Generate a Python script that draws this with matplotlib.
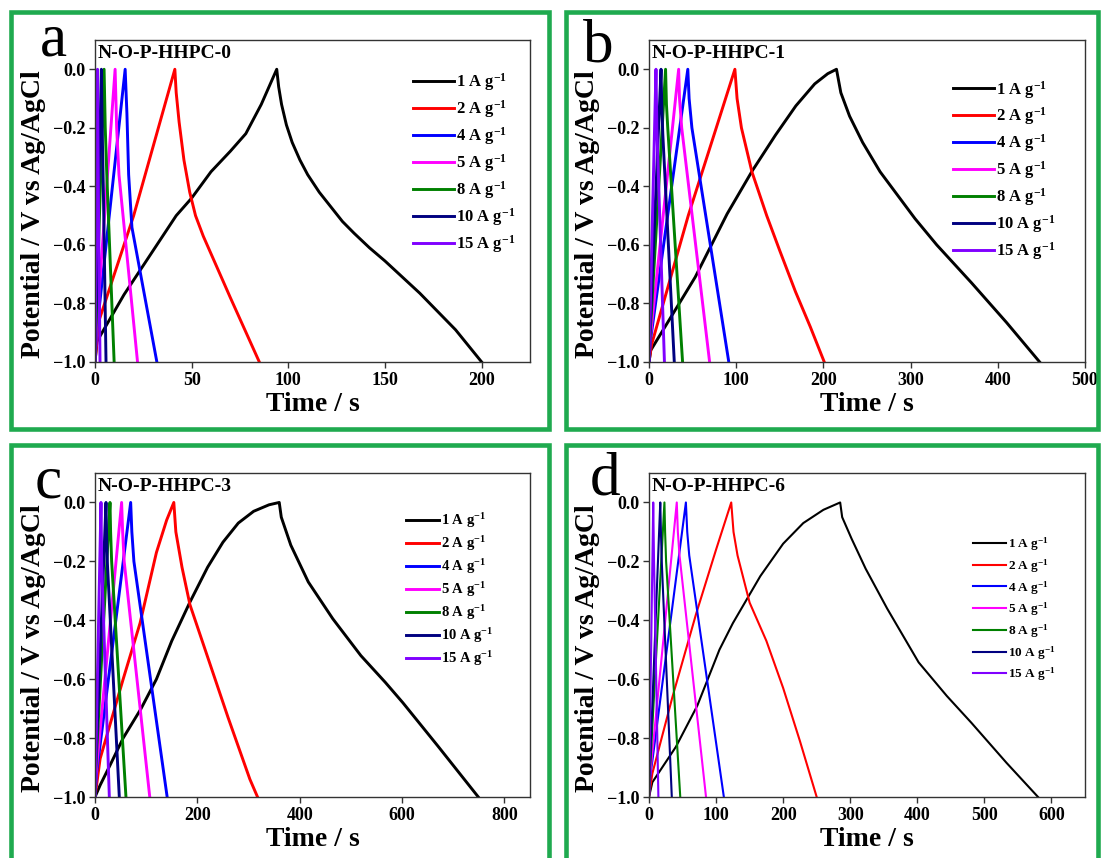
import matplotlib
matplotlib.use("Agg")
import matplotlib.pyplot as plt
from matplotlib.patches import Rectangle
from matplotlib.ticker import FuncFormatter

plt.rcParams['font.family'] = ['Liberation Serif', 'DejaVu Serif']
plt.rcParams['font.weight'] = 'bold'
plt.rcParams['mathtext.fontset'] = 'custom'
plt.rcParams['mathtext.rm'] = 'Liberation Serif:bold'
plt.rcParams['mathtext.default'] = 'rm'

W, H = 1101, 858

# corrientes y colores (iguales en los 4 paneles)
rates = ['1', '2', '4', '5', '8', '10', '15']
colors = ['#000000', '#ff0000', '#0000ff', '#ff00ff', '#008000', '#000080', '#8000ff']
samples = ['N-O-P-HHPC-0', 'N-O-P-HHPC-1', 'N-O-P-HHPC-3', 'N-O-P-HHPC-6']
letters = ['a', 'b', 'c', 'd']

# panel a : N-O-P-HHPC-0  (tiempo en s, potencial en V)
a_t = [
    [0, 1, 15, 32, 42, 50, 60, 70, 78, 86, 94, 95, 96.5, 99, 102, 106, 110, 116, 122, 128, 134, 142, 150, 168, 186.5, 200],
    [0, 2, 20, 41.3, 42, 43.5, 46, 49, 52, 56, 60, 70, 85],
    [0, 0.8, 15.6, 16.5, 17.4, 19.1, 32],
    [0, 0.6, 10.4, 11.2, 12.4, 22],
    [0, 0.4, 4.7, 5.3, 6.1, 9.9],
    [0, 0.3, 3.3, 3.7, 4.3, 5.7],
    [0, 1.3, 1.7, 2.6],
]
a_v = [
    [-1, -0.93, -0.77, -0.6, -0.5, -0.44, -0.35, -0.28, -0.22, -0.12, 0, -0.06, -0.12, -0.19, -0.25, -0.31, -0.36, -0.42, -0.47, -0.52, -0.56, -0.61, -0.655, -0.765, -0.89, -1],
    [-1, -0.86, -0.5, 0, -0.08, -0.18, -0.31, -0.42, -0.5, -0.57, -0.63, -0.78, -1],
    [-1, -0.9, 0, -0.15, -0.36, -0.54, -1],
    [-1, -0.9, 0, -0.2, -0.36, -1],
    [-1, -0.9, 0, -0.2, -0.36, -1],
    [-1, -0.9, 0, -0.2, -0.4, -1],
    [-1, 0, -0.4, -1],
]

# panel b : N-O-P-HHPC-1
b_t = [
    [0, 2, 53, 89.6, 118.4, 145, 168.4, 190, 205, 215, 220, 230, 245, 265, 290, 305, 330, 370, 410, 448],
    [0, 3, 45, 75, 98.5, 101, 106, 118, 135, 150, 168, 185, 201],
    [0, 1.5, 44.5, 46, 49.2, 91.5],
    [0, 1, 34, 35, 37.5, 69.5],
    [0, 0.8, 19, 20, 21.5, 38.5],
    [0, 0.6, 13.8, 14.6, 15.8, 29],
    [0, 8, 9, 17.7],
]
b_v = [
    [-1, -0.96, -0.71, -0.494, -0.347, -0.225, -0.125, -0.05, -0.015, 0, -0.08, -0.16, -0.25, -0.35, -0.45, -0.51, -0.6, -0.73, -0.865, -1],
    [-1, -0.94, -0.5, -0.22, 0, -0.1, -0.2, -0.35, -0.5, -0.62, -0.76, -0.88, -1],
    [-1, -0.93, 0, -0.1, -0.2, -1],
    [-1, -0.93, 0, -0.1, -0.2, -1],
    [-1, -0.93, 0, -0.12, -0.2, -1],
    [-1, -0.93, 0, -0.12, -0.22, -1],
    [-1, 0, -0.2, -1],
]

# panel c : N-O-P-HHPC-3
c_t = [
    [0, 10, 30, 55, 90, 120, 150, 185, 220, 250, 280, 310, 340, 360, 364, 382.6, 416.8, 464.7, 519.5, 567.4, 601.6, 670, 749],
    [0, 10, 55, 88, 120, 140, 154, 158, 170, 185.5, 225, 260, 302.7, 317.6],
    [0, 3, 69.7, 72, 76, 141],
    [0, 2, 52, 54, 57, 107],
    [0, 1, 29.3, 30.5, 32.5, 60.5],
    [0, 0.8, 21.5, 22.5, 24, 47.5],
    [0, 11.7, 13, 28],
]
c_v = [
    [-1, -0.96, -0.89, -0.8, -0.7, -0.6, -0.47, -0.34, -0.22, -0.135, -0.07, -0.03, -0.008, 0, -0.05, -0.145, -0.27, -0.395, -0.52, -0.611, -0.68, -0.827, -1],
    [-1, -0.87, -0.6, -0.41, -0.17, -0.06, 0, -0.1, -0.22, -0.347, -0.55, -0.73, -0.94, -1],
    [-1, -0.92, 0, -0.1, -0.2, -1],
    [-1, -0.92, 0, -0.1, -0.2, -1],
    [-1, -0.92, 0, -0.1, -0.2, -1],
    [-1, -0.92, 0, -0.1, -0.2, -1],
    [-1, 0, -0.2, -1],
]

# panel d : N-O-P-HHPC-6
d_t = [
    [0, 5, 40, 72, 105, 125, 166, 200, 230, 260, 285, 288, 302, 323, 355, 402, 444, 480.6, 533, 580],
    [0, 5, 35, 70, 100, 122.6, 126, 132, 150, 175, 200, 225, 250],
    [0, 2, 55, 57, 60, 111.6],
    [0, 1.5, 41.4, 43, 45.5, 85],
    [0, 1, 23, 24, 25.5, 46.6],
    [0, 0.8, 16.8, 17.8, 19, 34],
    [0, 6.3, 7.5, 14],
]
d_v = [
    [-1, -0.95, -0.83, -0.69, -0.5, -0.41, -0.25, -0.14, -0.07, -0.025, 0, -0.05, -0.123, -0.225, -0.36, -0.543, -0.657, -0.748, -0.884, -1],
    [-1, -0.92, -0.66, -0.38, -0.16, 0, -0.1, -0.18, -0.34, -0.47, -0.63, -0.81, -1],
    [-1, -0.93, 0, -0.1, -0.18, -1],
    [-1, -0.93, 0, -0.1, -0.18, -1],
    [-1, -0.93, 0, -0.1, -0.2, -1],
    [-1, -0.93, 0, -0.1, -0.2, -1],
    [-1, 0, -0.2, -1],
]

x_limits = [225, 500, 850, 650]
x_ticks = [[0, 50, 100, 150, 200], [0, 100, 200, 300, 400, 500],
           [0, 200, 400, 600, 800], [0, 100, 200, 300, 400, 500, 600]]
y_ticks = [-1.0, -0.8, -0.6, -0.4, -0.2, 0.0]

# posiciones en pixeles (izq, arriba, der, abajo) de cada eje
ax_px = [(95, 40, 530, 362), (649, 40, 1085, 362), (95, 473, 530, 797), (649, 473, 1085, 797)]
# leyenda: ancla, tamaño, largo de linea, espaciado
leg_opts = [((0.731, 0.902), 12, 2.45, 0.3), ((0.697, 0.880), 12, 2.45, 0.3),
            ((0.715, 0.881), 10.5, 2.26, 0.28), ((0.743, 0.807), 9.5, 2.5, 0.31)]
line_w = [2.1, 2.1, 2.1, 1.5]
letter_px = [(40, 55), (583, 62), (35, 497), (590, 495)]
# marcos verdes (centro de la linea)
frames_px = [(10.5, 12, 549, 429), (566, 12, 1098, 429), (10.5, 444.7, 549, 875), (566, 444.7, 1098, 875)]

all_t = [a_t, b_t, c_t, d_t]
all_v = [a_v, b_v, c_v, d_v]

fig = plt.figure(figsize=(W / 100, H / 100), dpi=100)


def fmt(v, p):
    s = f'{v:.1f}'
    if s == '-0.0':
        s = '0.0'
    return s.replace('-', '\u2212')


for i in range(4):
    l, t, r, b = ax_px[i]
    ax = fig.add_axes([l / W, 1 - b / H, (r - l) / W, (b - t) / H])

    for k in range(7):
        ax.plot(all_t[i][k], all_v[i][k], color=colors[k], lw=line_w[i],
                label=rates[k] + ' A g$^{-1}$')

    ax.set_xlim(0, x_limits[i])
    ax.set_ylim(-1.0, 0.1)
    ax.set_xticks(x_ticks[i])
    ax.set_yticks(y_ticks)
    ax.yaxis.set_major_formatter(FuncFormatter(fmt))
    ax.tick_params(direction='out', length=4, width=1, labelsize=13, pad=3,
                   color='#333333')
    for sp in ax.spines.values():
        sp.set_linewidth(1.0)
        sp.set_color('#333333')

    ax.set_xlabel('Time / s', fontsize=20, fontweight='bold', labelpad=2)
    ax.set_ylabel('Potential / V vs Ag/AgCl', fontsize=20, fontweight='bold')
    ax.yaxis.set_label_coords(-0.112, 0.46)

    ax.text(0.005, 0.957, samples[i], transform=ax.transAxes, fontsize=14,
            fontweight='bold', ha='left', va='center')

    anchor, fs, hl, ls = leg_opts[i]
    ax.legend(loc='upper left', bbox_to_anchor=anchor, frameon=False,
              fontsize=fs, handlelength=hl, handletextpad=0.15,
              labelspacing=ls, borderpad=0, borderaxespad=0)

    # letra del panel
    lx, ly = letter_px[i]
    fig.text(lx / W, 1 - ly / H, letters[i], fontsize=44, fontweight='normal',
             ha='left', va='baseline')

    # marco verde
    fx0, fy0, fx1, fy1 = frames_px[i]
    fig.add_artist(Rectangle((fx0 / W, 1 - fy1 / H), (fx1 - fx0) / W, (fy1 - fy0) / H,
                             transform=fig.transFigure, fill=False,
                             edgecolor='#1faa4f', lw=3.3, clip_on=False))

fig.savefig('out.png', dpi=100)
